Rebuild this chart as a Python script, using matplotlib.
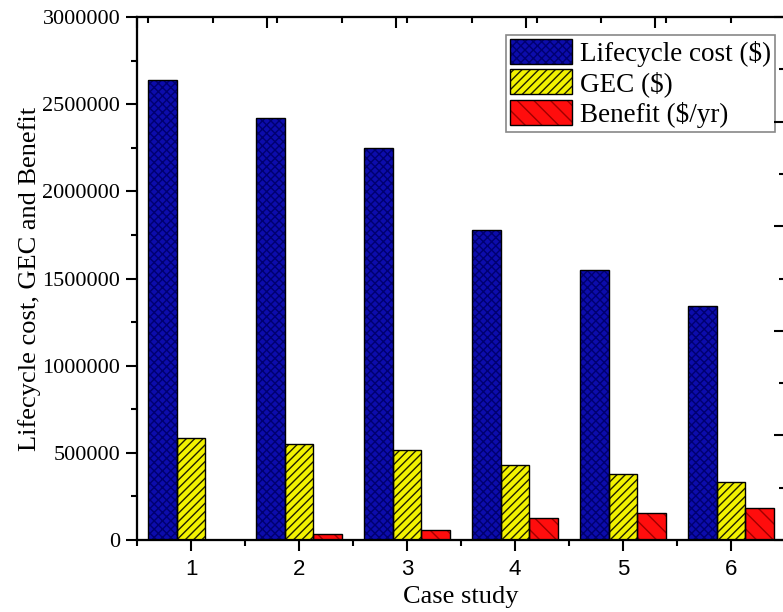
import numpy as np
import matplotlib
matplotlib.use("Agg")
import matplotlib.pyplot as plt
from matplotlib.ticker import MultipleLocator, FormatStrFormatter

plt.rcParams['font.family'] = ['Liberation Serif', 'DejaVu Serif']
plt.rcParams['hatch.linewidth'] = 1.0

cases = [1, 2, 3, 4, 5, 6]
lifecycle = [2640000, 2420000, 2250000, 1780000, 1550000, 1340000]
gec = [585000, 551000, 516000, 430000, 379000, 333000]
benefit = [0, 34000, 57000, 126000, 155000, 184000]

labels = ["Lifecycle cost ($)", "GEC ($)", "Benefit ($/yr)"]
faces = ["#0c0cac", "#f2f200", "#ff0d0d"]
hatch_cols = ["#000070", "#202000", "#a00000"]
hatches = ["xxxx", "////", "\\\\"]

fig = plt.figure(figsize=(7.83, 6.12), dpi=100)
ax = fig.add_axes([0.175, 0.1176, 0.8276, 0.8546])

x = np.array(cases, dtype=float)
w = 0.267
handles = []
for i, vals in enumerate([lifecycle, gec, benefit]):
    pos = x + (i - 1) * w
    # hatch in its own colour, then a black outline on top
    b1 = ax.bar(pos, vals, w, color=faces[i], edgecolor=hatch_cols[i],
                hatch=hatches[i], linewidth=0, zorder=2)
    b2 = ax.bar(pos, vals, w, facecolor="none", edgecolor="black",
                linewidth=1.0, zorder=3)
    handles.append((b1[0], b2[0]))

ax.set_xlim(0.5, 6.5)
ax.set_ylim(0, 3000000)
ax.set_xticks(cases)
ax.xaxis.set_minor_locator(MultipleLocator(0.5))
ax.yaxis.set_major_locator(MultipleLocator(500000))
ax.yaxis.set_minor_locator(MultipleLocator(250000))
ax.yaxis.set_major_formatter(FormatStrFormatter("%d"))
ax.tick_params(axis="both", which="major", direction="out", length=8, width=1.5)
ax.tick_params(axis="both", which="minor", direction="out", length=4, width=1.5)
ax.tick_params(axis="y", labelsize=16, pad=4)
ax.tick_params(axis="x", labelsize=16, pad=6)
for t in ax.get_xticklabels():
    t.set_fontfamily("Liberation Sans")
for s in ax.spines.values():
    s.set_linewidth(1.5)

ax.set_xlabel("Case study", fontsize=19, labelpad=4)
ax.set_ylabel("Lifecycle cost, GEC and Benefit", fontsize=19, labelpad=1)

# top and right ticks from the neighbouring axis
top = ax.twiny()
top.set_xlim(ax.get_xlim())
top.set_xticks(0.5 + 1.2 * np.arange(6))
top.xaxis.set_minor_locator(MultipleLocator(0.6))
top.tick_params(axis="x", which="major", direction="in", length=8, width=1.5, labeltop=False)
top.tick_params(axis="x", which="minor", direction="in", length=4, width=1.5)
right = ax.twinx()
right.set_ylim(ax.get_ylim())
right.set_yticks(600000 * np.arange(6))
right.yaxis.set_minor_locator(MultipleLocator(300000))
right.tick_params(axis="y", which="major", direction="in", length=8, width=1.5, labelright=False)
right.tick_params(axis="y", which="minor", direction="in", length=4, width=1.5)
for a in (top, right):
    for s in a.spines.values():
        s.set_linewidth(1.5)

leg = ax.legend(handles, labels, loc="upper right", bbox_to_anchor=(0.985, 0.966),
                borderaxespad=0, fontsize=19.5, fancybox=False, edgecolor="#888888",
                handlelength=2.3, handleheight=1.05, labelspacing=0.1,
                handletextpad=0.3, borderpad=0.15, framealpha=1)
leg.get_frame().set_linewidth(1.2)
leg.set_zorder(10)

fig.savefig("out.png", dpi=100)
